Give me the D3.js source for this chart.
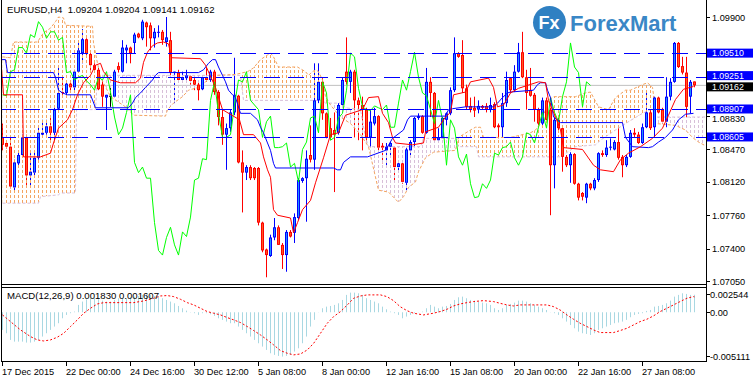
<!DOCTYPE html>
<html>
<head>
<meta charset="utf-8">
<title>EURUSD H4</title>
<style>
  body { margin: 0; background: #fff; }
  svg text { font-family: "Liberation Sans", Arial, sans-serif; }
</style>
</head>
<body>
<script src="https://d3js.org/d3.v7.min.js"></script>
<script>
// candles, H4 bars 0..173
var opens = [1.0860,1.0854,1.0850,1.0806,1.0832,1.0841,1.0860,1.0819,1.0822,1.0838,1.0863,1.0865,1.0872,1.0865,1.0891,1.0909,1.0908,1.0918,1.0914,1.0931,
  1.0951,1.0966,1.0950,1.0938,1.0933,1.0917,1.0903,1.0905,1.0904,1.0937,1.0931,1.0954,1.0957,1.0962,1.0972,1.0967,1.0984,1.0981,1.0967,1.0973,
  1.0974,1.0963,1.0965,1.0930,1.0930,1.0922,1.0924,1.0926,1.0922,1.0917,1.0912,1.0925,1.0922,1.0931,1.0909,1.0882,1.0863,1.0870,1.0887,1.0905,
  1.0833,1.0822,1.0828,1.0827,1.0827,1.0768,1.0739,1.0732,1.0752,1.0763,1.0744,1.0733,1.0758,1.0757,1.0773,1.0813,1.0816,1.0841,1.0836,1.0900,
  1.0920,1.0886,1.0870,1.0868,1.0865,1.0895,1.0931,1.0920,1.0931,1.0900,1.0895,1.0890,1.0860,1.0875,1.0883,1.0851,1.0846,1.0850,1.0849,1.0828,
  1.0832,1.0811,1.0846,1.0855,1.0881,1.0883,1.0865,1.0920,1.0908,1.0857,1.0860,1.0879,1.0886,1.0911,1.0951,1.0949,1.0913,1.0894,1.0892,1.0890,
  1.0894,1.0894,1.0890,1.0896,1.0873,1.0871,1.0897,1.0924,1.0911,1.0931,1.0952,1.0925,1.0911,1.0906,1.0890,1.0875,1.0900,1.0890,1.0830,1.0879,
  1.0870,1.0839,1.0830,1.0842,1.0810,1.0800,1.0795,1.0810,1.0805,1.0814,1.0843,1.0841,1.0849,1.0847,1.0855,1.0839,1.0830,1.0839,1.0865,1.0863,
  1.0854,1.0871,1.0887,1.0871,1.0903,1.0890,1.0877,1.0904,1.0920,1.0962,1.0937,1.0930,1.0904,1.09204];
var highs = [1.0875,1.0855,1.0860,1.0836,1.0844,1.0863,1.0863,1.0843,1.0846,1.0871,1.0879,1.0879,1.0882,1.0892,1.0935,1.0925,1.0920,1.0919,1.0933,1.0965,
  1.0977,1.0967,1.0951,1.0940,1.0935,1.0922,1.0906,1.0914,1.0933,1.0941,1.0965,1.0960,1.0958,1.0973,1.0973,1.0987,1.0985,1.0984,1.0978,1.0981,
  1.0976,1.0990,1.0974,1.0931,1.0933,1.0931,1.0933,1.0927,1.0924,1.0920,1.0927,1.0935,1.0933,1.0933,1.0911,1.0890,1.0875,1.0890,1.0946,1.0906,
  1.0846,1.0830,1.0830,1.0828,1.0828,1.0769,1.0740,1.0755,1.0773,1.0765,1.0746,1.0760,1.0760,1.0778,1.0816,1.0817,1.0846,1.0873,1.0940,1.0940,
  1.0924,1.0887,1.0881,1.0887,1.0897,1.0925,1.0968,1.0933,1.0933,1.0903,1.0904,1.0892,1.0890,1.0892,1.0884,1.0854,1.0854,1.0855,1.0850,1.0833,
  1.0833,1.0849,1.0857,1.0882,1.0886,1.0884,1.0935,1.0925,1.0909,1.0870,1.0882,1.0887,1.0914,1.0968,1.0952,1.0965,1.0917,1.0903,1.0904,1.0900,
  1.0895,1.0897,1.0903,1.0898,1.0875,1.0908,1.0931,1.0925,1.0938,1.0962,1.0974,1.0933,1.0935,1.0908,1.0892,1.0903,1.0903,1.0903,1.0882,1.0884,
  1.0871,1.0841,1.0844,1.0843,1.0811,1.0801,1.0811,1.0811,1.0816,1.0844,1.0846,1.0857,1.0859,1.0857,1.0873,1.0841,1.0841,1.0868,1.0870,1.0866,
  1.0875,1.0909,1.0890,1.0904,1.0904,1.0892,1.0925,1.0924,1.0963,1.0963,1.0947,1.0947,1.0922,1.09204];
var lows = [1.0846,1.0848,1.0805,1.0803,1.0828,1.0839,1.0806,1.0806,1.0819,1.0836,1.0860,1.0863,1.0854,1.0857,1.0887,1.0906,1.0906,1.0911,1.0911,1.0930,
  1.0940,1.0949,1.0930,1.0931,1.0911,1.0893,1.0868,1.0893,1.0903,1.0930,1.0930,1.0940,1.0940,1.0951,1.0967,1.0965,1.0958,1.0954,1.0957,1.0968,
  1.0960,1.0958,1.0927,1.0897,1.0920,1.0920,1.0922,1.0917,1.0911,1.0900,1.0911,1.0920,1.0920,1.0906,1.0873,1.0852,1.0825,1.0866,1.0884,1.0832,
  1.0779,1.0814,1.0814,1.0814,1.0765,1.0736,1.0709,1.0731,1.0749,1.0744,1.0718,1.0715,1.0752,1.0746,1.0771,1.0811,1.0769,1.0833,1.0825,1.0897,
  1.0879,1.0859,1.0857,1.0801,1.0863,1.0893,1.0917,1.0908,1.0860,1.0857,1.0846,1.0854,1.0850,1.0873,1.0846,1.0832,1.0828,1.0839,1.0812,1.0822,
  1.0810,1.0803,1.0839,1.0850,1.0879,1.0864,1.0864,1.0882,1.0855,1.0855,1.0859,1.0873,1.0884,1.0909,1.0946,1.0908,1.0890,1.0887,1.0882,1.0886,
  1.0890,1.0887,1.0887,1.0870,1.0859,1.0860,1.0893,1.0908,1.0909,1.0930,1.0924,1.0890,1.0904,1.0877,1.0873,1.0873,1.0877,1.0776,1.0805,1.0868,
  1.0823,1.0828,1.0811,1.0809,1.0792,1.0792,1.0789,1.0803,1.0803,1.0812,1.0839,1.0839,1.0846,1.0846,1.0836,1.0817,1.0828,1.0838,1.0860,1.0853,
  1.0853,1.0870,1.0868,1.0860,1.0886,1.0875,1.0871,1.0900,1.0919,1.0935,1.0928,1.0882,1.0886,1.09141];
var closes = [1.0852,1.0850,1.0807,1.0833,1.0841,1.0860,1.0819,1.0823,1.0838,1.0865,1.0865,1.0872,1.0865,1.0890,1.0908,1.0908,1.0918,1.0914,1.0931,1.0954,
  1.0966,1.0950,1.0938,1.0933,1.0912,1.0904,1.0906,1.0905,1.0931,1.0933,1.0957,1.0957,1.0951,1.0971,1.0968,1.0985,1.0979,1.0967,1.0974,1.0974,
  1.0965,1.0968,1.0930,1.0931,1.0922,1.0925,1.0927,1.0921,1.0917,1.0911,1.0925,1.0922,1.0931,1.0909,1.0882,1.0863,1.0870,1.0887,1.0906,1.0833,
  1.0822,1.0828,1.0816,1.0816,1.0768,1.0738,1.0733,1.0752,1.0763,1.0744,1.0733,1.0758,1.0753,1.0774,1.0814,1.0816,1.0837,1.0836,1.0900,1.0920,
  1.0886,1.0860,1.0860,1.0863,1.0895,1.0922,1.0920,1.0931,1.0900,1.0895,1.0890,1.0860,1.0877,1.0883,1.0849,1.0849,1.0850,1.0854,1.0828,1.0832,
  1.0812,1.0847,1.0855,1.0881,1.0883,1.0865,1.0920,1.0908,1.0857,1.0860,1.0881,1.0886,1.0911,1.0951,1.0947,1.0913,1.0893,1.0890,1.0889,1.0894,
  1.0892,1.0890,1.0895,1.0871,1.0871,1.0897,1.0922,1.0911,1.0931,1.0952,1.0925,1.0908,1.0905,1.0890,1.0875,1.0900,1.0879,1.0830,1.0879,1.0870,
  1.0839,1.0830,1.0842,1.0810,1.0795,1.0796,1.0810,1.0805,1.0814,1.0843,1.0841,1.0849,1.0850,1.0855,1.0838,1.0830,1.0839,1.0865,1.0863,1.0854,
  1.0871,1.0887,1.0870,1.0903,1.0887,1.0877,1.0904,1.0920,1.0962,1.0936,1.0930,1.0893,1.0920,1.09162];

// ichimoku lines, [bar, price]
var tenkan = [[-0.5,1.0949],[0.25,1.0906],[5,1.0906],[5.25,1.0839],[9.5,1.0839],[12,1.0843],[12.75,1.0854],[14,1.0870],[16.25,1.0879],[17.5,1.0890],
  [18.75,1.0906],[20.25,1.0919],[22,1.0927],[23.25,1.0938],[24.5,1.0940],[25.25,1.0931],[27,1.0922],[29.5,1.0919],[33.25,1.0919],[34.5,1.0924],
  [35.25,1.0941],[36.25,1.0952],[37.5,1.0959],[38.75,1.0962],[40.25,1.0963],[41.5,1.0961],[42.25,1.0946],[49.5,1.0945],[50.75,1.0938],[53.25,1.0914],
  [55,1.0890],[59.25,1.0879],[60.25,1.0863],[62.75,1.0863],[64.5,1.0854],[65.25,1.0839],[66.25,1.0825],[67,1.0817],[67.75,1.0782],[68.75,1.0776],
  [72,1.0773],[72.75,1.0757],[73.75,1.0768],[75,1.0782],[77,1.0792],[78.25,1.0811],[80.25,1.0838],[82,1.0863],[84,1.0865],[85.75,1.0884],
  [90,1.0890],[91.5,1.0903],[94,1.0904],[95,1.0886],[96.5,1.0876],[97.5,1.0860],[98.25,1.0854],[102.5,1.0852],[105.25,1.0854],[105.75,1.0866],
  [109,1.0871],[110.75,1.0882],[112,1.0887],[112.75,1.0906],[115.75,1.0909],[117,1.0920],[121.5,1.0924],[122.75,1.0914],[123.75,1.0893],[125.25,1.0895],
  [127,1.0908],[129,1.0913],[134,1.0920],[135.75,1.0919],[136.5,1.0900],[138.25,1.0882],[139.5,1.0868],[140.25,1.0849],[145,1.0847],[147.75,1.0830],
  [149.5,1.0825],[152.75,1.0823],[154.5,1.0836],[156.5,1.0843],[159.5,1.0850],[162.5,1.0859],[165,1.0870],[166.5,1.0884],[168.25,1.0901],[170.25,1.0912],
  [172.75,1.0915]];
var kijun = [[-0.5,1.0944],[0.75,1.0944],[1.25,1.0930],[12.75,1.0930],[13.25,1.0925],[14,1.0911],[15,1.0908],[16.25,1.0906],[22,1.0906],[23.25,1.0892],
  [31.5,1.0892],[32.5,1.0897],[33.25,1.0903],[34.5,1.0908],[35.75,1.0914],[37.5,1.0922],[38.25,1.0927],[39,1.0930],[49,1.0930],[50.25,1.0933],
  [51.5,1.0940],[52.5,1.0944],[53.25,1.0944],[54,1.0936],[55,1.0927],[55.75,1.0920],[56.5,1.0911],[57.5,1.0906],[58.25,1.0903],[59.5,1.0886],
  [62,1.0886],[63.75,1.0879],[64.5,1.0871],[65.25,1.0865],[66.25,1.0854],[67,1.0846],[67.75,1.0832],[68.25,1.0827],[82.75,1.0827],[83.75,1.0825],
  [84.5,1.0825],[85.25,1.0833],[87,1.0839],[91.25,1.0839],[95.75,1.0846],[97.5,1.0859],[100.25,1.0868],[101.25,1.0879],[102,1.0883],[110.75,1.0883],
  [111.5,1.0890],[112.5,1.0891],[115.75,1.0893],[122.75,1.0893],[123.75,1.0897],[125,1.0903],[126.25,1.0908],[127,1.0909],[132.75,1.0911],[133.75,1.0917],
  [134.5,1.0919],[135.75,1.0919],[136.25,1.0911],[137,1.0903],[137.75,1.0882],[138.75,1.0879],[139.5,1.0876],[155,1.0876],[155.75,1.0860],[157.5,1.0850],
  [161.5,1.0849],[162.5,1.0850],[164,1.0855],[165.75,1.0860],[167.5,1.0868],[169,1.0879],[170.75,1.0885],[172.75,1.0886]];
var spanA = [[0,1.0947],[2,1.0946],[2.75,1.0963],[8.75,1.0963],[10.25,1.0973],[12,1.0978],[13.25,1.0985],[14,1.0990],[15.25,1.0989],[15.75,1.0981],
  [22.5,1.0980],[22.75,1.0962],[23.75,1.0940],[24.5,1.0925],[27,1.0904],[30.75,1.0893],[32.75,1.0884],[40.75,1.0883],[41.25,1.0890],[42.75,1.0897],
  [45,1.0904],[46.5,1.0911],[49,1.0914],[50.75,1.0920],[53.25,1.0927],[58.25,1.0928],[61.25,1.0931],[62.75,1.0935],[64.5,1.0944],[66.25,1.0949],
  [67,1.0951],[67.75,1.0947],[69,1.0936],[73.75,1.0936],[75.75,1.0931],[76.5,1.0927],[77.5,1.0931],[78.25,1.0933],[79,1.0931],[80,1.0922],
  [80.75,1.0904],[82,1.0895],[84.5,1.0882],[87,1.0875],[89.5,1.0863],[91.5,1.0850],[94,1.0803],[96.5,1.0801],[99,1.0790],[100.25,1.0796],
  [101.5,1.0806],[103.25,1.0812],[104,1.0823],[105.75,1.0838],[107.75,1.0844],[113.25,1.0846],[114,1.0860],[117,1.0868],[118.25,1.0871],[119.5,1.0871],
  [120.25,1.0860],[127,1.0860],[132,1.0865],[133.25,1.0868],[134.5,1.0875],[135.75,1.0890],[136.5,1.0900],[137.75,1.0904],[143.25,1.0904],[145.75,1.0908],
  [147,1.0909],[149,1.0893],[151.5,1.0890],[153.25,1.0903],[155.75,1.0911],[157,1.0911],[160,1.0917],[161.25,1.0919],[162.5,1.0914],[162.75,1.0906],
  [163.25,1.0875],[168.25,1.0873],[170.75,1.0868],[172.5,1.0860],[174,1.0855],[175.75,1.0851]];
var spanB = [[0,1.0789],[9,1.0789],[9.5,1.0796],[14,1.0798],[14.5,1.0800],[18.25,1.0800],[18.5,1.0890],[23.25,1.0890],[23.75,1.0927],[59.5,1.0927],
  [60.25,1.0900],[80,1.0900],[80.75,1.0897],[84.5,1.0897],[85.75,1.0892],[89.5,1.0890],[90.75,1.0860],[91.5,1.0850],[104.5,1.0850],[105.25,1.0859],
  [113.25,1.0859],[114,1.0850],[118.5,1.0850],[119,1.0839],[139.5,1.0839],[143.25,1.0850],[148.25,1.0852],[149.5,1.0857],[153.25,1.0868],[155.75,1.0875],
  [160,1.0886],[162.5,1.0891],[163.25,1.0882],[175.75,1.0882]];

// MACD(12,26,9)
var macdHist = [-0.00185,-0.00220,-0.00290,-0.00308,-0.00308,-0.00308,-0.00318,-0.00318,-0.00308,-0.00290,-0.00255,-0.00220,-0.00185,-0.00150,-0.00115,-0.00063,-0.00028,-0.00010,0.00007,0.00077,
  0.00112,0.00136,0.00147,0.00147,0.00136,0.00122,0.00112,0.00112,0.00129,0.00147,0.00147,0.00147,0.00157,0.00164,0.00171,0.00182,0.00182,0.00182,0.00171,0.00164,
  0.00147,0.00129,0.00112,0.00094,0.00066,0.00042,0.00017,-0.00003,-0.00010,-0.00028,-0.00010,-0.00010,-0.00021,-0.00038,-0.00063,-0.00080,-0.00098,-0.00115,-0.00115,-0.00150,
  -0.00185,-0.00220,-0.00255,-0.00290,-0.00325,-0.00360,-0.00395,-0.00430,-0.00447,-0.00458,-0.00465,-0.00458,-0.00447,-0.00412,-0.00378,-0.00325,-0.00255,-0.00150,-0.00080,-0.00002,
  0.00042,0.00059,0.00066,0.00077,0.00094,0.00129,0.00182,0.00206,0.00206,0.00199,0.00182,0.00147,0.00129,0.00112,0.00094,0.00059,0.00031,0.00007,-0.00010,-0.00028,
  -0.00063,-0.00045,-0.00028,-0.00010,-0.00002,0.00007,0.00042,0.00077,0.00059,0.00042,0.00059,0.00066,0.00087,0.00129,0.00157,0.00164,0.00147,0.00129,0.00122,0.00112,
  0.00101,0.00094,0.00077,0.00042,0.00024,0.00042,0.00077,0.00087,0.00101,0.00122,0.00122,0.00112,0.00094,0.00077,0.00059,0.00042,0.00024,-0.00002,-0.00010,-0.00028,
  -0.00063,-0.00098,-0.00133,-0.00168,-0.00203,-0.00220,-0.00227,-0.00238,-0.00220,-0.00185,-0.00168,-0.00150,-0.00133,-0.00115,-0.00108,-0.00098,-0.00080,-0.00052,-0.00028,-0.00017,
  -0.00010,0.00014,0.00024,0.00059,0.00066,0.00077,0.00094,0.00122,0.00164,0.00182,0.00199,0.00192,0.00182,0.00183];
var macdSignal = [[0,-0.00028],[2,-0.00098],[4.5,-0.00185],[7,-0.00255],[8.7,-0.00290],[10.3,-0.00301],[12,-0.00290],[13.7,-0.00262],[15.3,-0.00220],[17,-0.00150],
  [18.7,-0.00080],[20.3,-0.00010],[22,0.00042],[23.7,0.00087],[25.3,0.00101],[32.8,0.00101],[35.3,0.00119],[37.8,0.00147],[39.5,0.00171],[41.2,0.00175],
  [42.8,0.00164],[44.5,0.00136],[46.2,0.00101],[47.8,0.00077],[49.5,0.00042],[51.2,0.00007],[52.8,-0.00010],[54.5,-0.00028],[56.2,-0.00056],[57.8,-0.00080],
  [59.5,-0.00108],[61.2,-0.00150],[62.8,-0.00192],[64.5,-0.00238],[66.2,-0.00290],[67.8,-0.00343],[69.5,-0.00402],[71.2,-0.00430],[72.8,-0.00447],[74.5,-0.00437],
  [76.2,-0.00395],[77.8,-0.00325],[79.5,-0.00220],[81.2,-0.00115],[82.8,-0.00045],[84.5,0.00007],[86.2,0.00077],[87.8,0.00147],[89.5,0.00171],[91.2,0.00182],
  [94.5,0.00182],[96.1,0.00164],[97.75,0.00122],[99.4,0.00059],[101.1,0.00017],[102.75,-0.00010],[105.25,-0.00028],[107.75,-0.00010],[109.4,0.00007],[111.1,0.00031],
  [112.75,0.00066],[114.4,0.00087],[116.1,0.00101],[117.75,0.00112],[120.25,0.00122],[122.75,0.00112],[124.4,0.00094],[126.1,0.00077],[127.75,0.00066],[129.4,0.00077],
  [136.1,0.00077],[137.75,0.00059],[139.4,0.00024],[141.1,-0.00028],[142.75,-0.00073],[144.4,-0.00115],[146.1,-0.00150],[147.75,-0.00185],[149.4,-0.00213],[152.75,-0.00213],
  [154.4,-0.00192],[156.1,-0.00168],[157.75,-0.00133],[159.4,-0.00098],[161.1,-0.00073],[162.75,-0.00038],[164.4,0.00007],[166.1,0.00042],[167.75,0.00077],[169.4,0.00112],
  [171.1,0.00147],[172.75,0.00164],[173,0.001607]];

var levels = [1.09510, 1.09251, 1.08907, 1.08605];
var bidPrice = 1.09162;
var priceTicks = [1.09900, 1.08830, 1.08470, 1.08120, 1.07760, 1.07400, 1.07050];
var macdTicks = [0.002544, 0.00, -0.005111];
var macdTickText = ["0.002544", "0.00", "-0.005111"];
var dateBars = [0, 16, 32, 48, 64, 80, 96, 112, 128, 144, 160];
var dateLabels = ["17 Dec 2015", "22 Dec 00:00", "24 Dec 16:00", "30 Dec 12:00", "5 Jan 08:00", "8 Jan 00:00",
  "12 Jan 16:00", "15 Jan 08:00", "20 Jan 00:00", "22 Jan 16:00", "27 Jan 08:00"];

var width = 753, height = 382;
var svg = d3.select("body").append("svg").attr("width", width).attr("height", height);
var defs = svg.append("defs");

var x = d3.scaleLinear().domain([0, 173]).range([2.5, 694.5]);
var y = d3.scaleLinear().domain([1.07050, 1.09900]).range([281, 17]);
var ym = d3.scaleLinear().domain([-0.005111, 0.002544]).range([361, 288]);

defs.append("clipPath").attr("id", "clipMain").append("rect")
  .attr("x", 2).attr("y", 0).attr("width", 704).attr("height", 284);
defs.append("clipPath").attr("id", "clipMacd").append("rect")
  .attr("x", 2).attr("y", 288).attr("width", 704).attr("height", 73);

function dotPattern(id, color) {
  var p = defs.append("pattern").attr("id", id).attr("patternUnits", "userSpaceOnUse")
    .attr("width", 4).attr("height", 5);
  p.append("rect").attr("x", 2).attr("y", 0).attr("width", 1).attr("height", 3).attr("fill", color);
}
dotPattern("dotsUp", "#f4a460");
dotPattern("dotsDn", "#d8bfd8");

var pt = function(d) { return [x(d[0]), y(d[1])]; };
var poly = function(pts) { return "M" + pts.map(function(p) { return p[0] + "," + p[1]; }).join("L") + "Z"; };

var aPts = spanA.map(pt), bPts = spanB.map(pt);
// regions above each span line, used to split cloud colours
defs.append("clipPath").attr("id", "aboveB").append("path")
  .attr("d", poly([[bPts[0][0], -10]].concat(bPts, [[bPts[bPts.length - 1][0], -10]])));
defs.append("clipPath").attr("id", "aboveA").append("path")
  .attr("d", poly([[aPts[0][0], -10]].concat(aPts, [[aPts[aPts.length - 1][0], -10]])));

var main = svg.append("g").attr("clip-path", "url(#clipMain)");

// bid line
main.append("line").attr("x1", 0).attr("x2", 706).attr("y1", y(bidPrice)).attr("y2", y(bidPrice))
  .attr("stroke", "#c0c0c0");

var bars = d3.range(opens.length);
function candleColor(i) {
  if (closes[i] > opens[i]) return "#0000ff";
  if (closes[i] < opens[i]) return "#ff0000";
  return "#000000";
}

// wicks
main.append("g").selectAll("line").data(bars).enter().append("line")
  .attr("x1", function(i) { return x(i); }).attr("x2", function(i) { return x(i); })
  .attr("y1", function(i) { return y(highs[i]); }).attr("y2", function(i) { return y(lows[i]); })
  .attr("stroke", candleColor);

// cloud
var cloudPath = poly(aPts.concat(bPts.slice().reverse()));
main.append("g").attr("clip-path", "url(#aboveB)").append("path")
  .attr("d", cloudPath).attr("fill", "url(#dotsUp)");
main.append("g").attr("clip-path", "url(#aboveA)").append("path")
  .attr("d", cloudPath).attr("fill", "url(#dotsDn)");
var line = d3.line().x(function(d) { return x(d[0]); }).y(function(d) { return y(d[1]); });
main.append("path").attr("d", line(spanB)).attr("fill", "none")
  .attr("stroke", "#d8bfd8").attr("stroke-dasharray", "3,2");
main.append("path").attr("d", line(spanA)).attr("fill", "none")
  .attr("stroke", "#f4a460").attr("stroke-dasharray", "3,2");

// bodies
var body = main.append("g").selectAll("g").data(bars).enter().append("g");
body.append("rect")
  .attr("x", function(i) { return x(i) - 1.5; }).attr("width", 3)
  .attr("y", function(i) { return y(Math.max(opens[i], closes[i])); })
  .attr("height", function(i) { return Math.max(1, y(Math.min(opens[i], closes[i])) - y(Math.max(opens[i], closes[i]))); })
  .attr("fill", candleColor);
body.append("rect")
  .attr("x", function(i) { return x(i) - 0.5; }).attr("width", 1)
  .attr("y", function(i) { return y(Math.max(opens[i], closes[i])) + 1; })
  .attr("height", function(i) { return Math.max(0, y(Math.min(opens[i], closes[i])) - y(Math.max(opens[i], closes[i])) - 2); })
  .attr("fill", function(i) { return closes[i] >= opens[i] ? "#1e90ff" : "#ff5a1f"; });

// chikou = close drawn 26 bars back
var chikou = closes.slice(26).map(function(c, j) { return [j, c]; });
main.append("path").attr("d", line(chikou)).attr("fill", "none").attr("stroke", "#00ff00");
main.append("path").attr("d", line(kijun)).attr("fill", "none").attr("stroke", "#0000ff");
main.append("path").attr("d", line(tenkan)).attr("fill", "none").attr("stroke", "#ff0000");

// level lines
main.append("g").selectAll("line").data(levels).enter().append("line")
  .attr("x1", 0).attr("x2", 706)
  .attr("y1", function(d) { return Math.round(y(d)) + 0.5; }).attr("y2", function(d) { return Math.round(y(d)) + 0.5; })
  .attr("stroke", "#0000ff").attr("stroke-dasharray", "16,8");

// logo
var logo = svg.append("g");
logo.append("circle").attr("cx", 549.5).attr("cy", 22.5).attr("r", 16.5).attr("fill", "#2f80c2");
logo.append("text").attr("x", 549).attr("y", 29).attr("text-anchor", "middle")
  .attr("font-size", 18).attr("font-weight", "bold").attr("fill", "#fff").text("Fx");
logo.append("text").attr("x", 570).attr("y", 31).attr("font-size", 22).attr("font-weight", "bold")
  .attr("fill", "#3a87c6").text("ForexMart");

// MACD
var macd = svg.append("g").attr("clip-path", "url(#clipMacd)");
macd.append("g").selectAll("line").data(bars).enter().append("line")
  .attr("x1", function(i) { return x(i); }).attr("x2", function(i) { return x(i); })
  .attr("y1", ym(0)).attr("y2", function(i) { return ym(macdHist[i]); })
  .attr("stroke", "#a9d8e2");
var mline = d3.line().x(function(d) { return x(d[0]); }).y(function(d) { return ym(d[1]); });
macd.append("path").attr("d", mline(macdSignal)).attr("fill", "none")
  .attr("stroke", "#ff0000").attr("stroke-dasharray", "2,2");

// frames
var frame = svg.append("g").attr("stroke", "#000").attr("fill", "none");
frame.append("line").attr("x1", 1.5).attr("x2", 1.5).attr("y1", 0).attr("y2", 362);
frame.append("line").attr("x1", 706.5).attr("x2", 706.5).attr("y1", 0).attr("y2", 362);
frame.append("line").attr("x1", 1).attr("x2", 707).attr("y1", 284.5).attr("y2", 284.5);
frame.append("line").attr("x1", 1).attr("x2", 707).attr("y1", 287.5).attr("y2", 287.5);
frame.append("line").attr("x1", 1).attr("x2", 707).attr("y1", 361.5).attr("y2", 361.5);

// price axis
var axisG = svg.append("g").attr("font-size", 9.2);
priceTicks.forEach(function(v) {
  // the 1.08830 label sits just under the 1.08907 marker, as in the terminal
  var ty = v === 1.08830 ? y(v) + 2.5 : y(v);
  axisG.append("line").attr("x1", 706).attr("x2", 710).attr("y1", Math.round(y(v)) + 0.5)
    .attr("y2", Math.round(y(v)) + 0.5).attr("stroke", "#000");
  axisG.append("text").attr("x", 712).attr("y", ty + 3.5).attr("fill", "#000").text(v.toFixed(5));
});
levels.concat([bidPrice]).forEach(function(v) {
  var c = v === bidPrice ? "#000" : "#0000ff";
  // nudge the two close markers apart a little
  var cy = v === 1.09251 ? y(v) - 1.5 : (v === bidPrice ? y(v) + 1.5 : y(v));
  axisG.append("rect").attr("x", 707).attr("y", cy - 4.5).attr("width", 46).attr("height", 9).attr("fill", c);
  axisG.append("text").attr("x", 712).attr("y", cy + 3.2).attr("font-size", 8.8).attr("fill", "#fff").text(v.toFixed(5));
});
macdTicks.forEach(function(v, k) {
  var ty = k === 0 ? ym(v) + 6 : (k === 2 ? ym(v) - 5 : ym(v));
  axisG.append("line").attr("x1", 706).attr("x2", 710).attr("y1", Math.round(ty) + 0.5)
    .attr("y2", Math.round(ty) + 0.5).attr("stroke", "#000");
  axisG.append("text").attr("x", 710).attr("y", ty + 3.5).attr("fill", "#000").text(macdTickText[k]);
});

// time axis
dateBars.forEach(function(b, k) {
  axisG.append("line").attr("x1", Math.floor(x(b)) + 0.5).attr("x2", Math.floor(x(b)) + 0.5)
    .attr("y1", 362).attr("y2", 366).attr("stroke", "#000");
  axisG.append("text").attr("x", x(b) - 0.5).attr("y", 374.5).attr("fill", "#000").text(dateLabels[k]);
});

// captions
svg.append("text").attr("x", 7).attr("y", 13).attr("font-size", 9.6).attr("fill", "#000")
  .style("white-space", "pre").text("EURUSD,H4  1.09204 1.09204 1.09141 1.09162");
svg.append("text").attr("x", 7).attr("y", 299).attr("font-size", 9.6).attr("fill", "#000")
  .text("MACD(12,26,9) 0.001830 0.001607");
</script>
</body>
</html>
